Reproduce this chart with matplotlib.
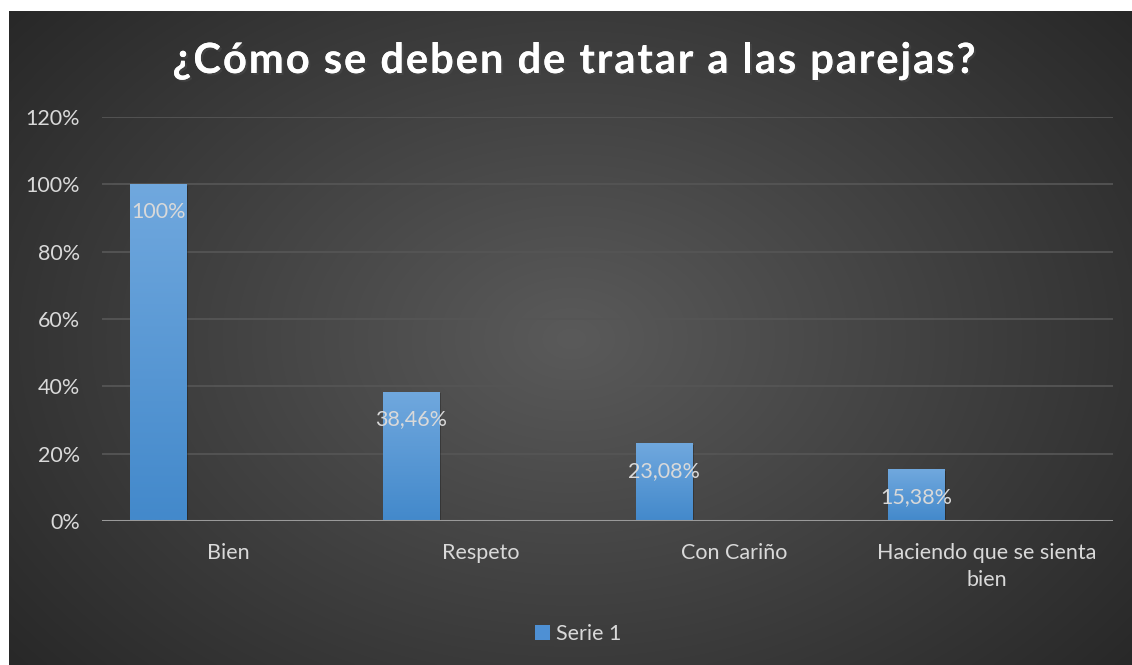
import numpy as np
import matplotlib
matplotlib.use("Agg")
import matplotlib.pyplot as plt
from matplotlib.patches import Patch
from matplotlib.font_manager import FontProperties
import matplotlib.patheffects as pe

categories = ["Bien", "Respeto", "Con Cariño", "Haciendo que se sienta\nbien"]
values = [1.0, 0.3846, 0.2308, 0.1538]
value_labels = ["100%", "38,46%", "23,08%", "15,38%"]
y_ticks = [0, 0.2, 0.4, 0.6, 0.8, 1.0, 1.2]
y_tick_labels = ["0%", "20%", "40%", "60%", "80%", "100%", "120%"]
series_name = "Serie 1"
title = "¿Cómo se deben de tratar a las parejas?"

W, H = 1132, 665
fig = plt.figure(figsize=(W / 100, H / 100), dpi=100)
fig.patch.set_facecolor("white")
FONT = "Lato"
txt_color = "#d9d9d9"
FS = 15.5

# background radial gradient (chart area)
bx0, by_top = 9, 11
bg = fig.add_axes([bx0 / W, 0, (W - bx0) / W, (H - by_top) / H])
bg.set_axis_off()
ny, nx = 330, 560
yy, xx = np.mgrid[0:ny, 0:nx]
cx, cy = nx * 0.50, ny * 0.50
d = np.sqrt(((xx - cx) / (nx * 0.66)) ** 2 + ((yy - cy) / (ny * 0.80)) ** 2)
d = np.clip(d, 0, 1)
c_center = np.array([0x5a, 0x5a, 0x5a]) / 255
c_edge = np.array([0x27, 0x27, 0x27]) / 255
img = c_center[None, None, :] * (1 - d[..., None]) + c_edge[None, None, :] * d[..., None]
bg.imshow(img, aspect="auto", extent=[0, 1, 0, 1], interpolation="bilinear")
bg.set_xlim(0, 1)
bg.set_ylim(0, 1)

# plot axes
left, right = 102 / W, 1113 / W
bottom, top = 1 - 521 / H, 1 - 117 / H
ax = fig.add_axes([left, bottom, right - left, top - bottom])
ax.patch.set_alpha(0)
ax.set_xlim(-0.5, len(categories) - 0.5)
ax.set_ylim(0, 1.2)
for s in ax.spines.values():
    s.set_visible(False)
ax.set_yticks(y_ticks)
ax.set_yticklabels(y_tick_labels)
ax.grid(axis="y", color="#555555", lw=1.3, zorder=0)
ax.set_axisbelow(True)
ax.axhline(0, color="#9a9a9a", lw=2.2, zorder=4)
ax.tick_params(axis="both", length=0, colors=txt_color, labelsize=FS)
ax.tick_params(axis="y", pad=16)
ax.tick_params(axis="x", pad=16)
x = np.arange(len(categories))
ax.set_xticks(x)
ax.set_xticklabels(categories, linespacing=1.45)
for lab in ax.get_xticklabels() + ax.get_yticklabels():
    lab.set_fontfamily(FONT)
    lab.set_color(txt_color)

bar_w = 0.222
offset = -0.278
grad = np.linspace(0, 1, 100)[:, None]
top_c = np.array([0x70, 0xa8, 0xde]) / 255
bot_c = np.array([0x43, 0x89, 0xcb]) / 255
gimg = top_c[None, None, :] * (1 - grad[..., None]) + bot_c[None, None, :] * grad[..., None]
gimg = np.repeat(gimg, 2, axis=1)
bars = ax.bar(x + offset, values, width=bar_w, color="#5b9bd5", zorder=3)
for b, v, lab in zip(bars, values, value_labels):
    bx, bw = b.get_x(), b.get_width()
    ax.bar(bx + bw / 2 + 0.008, v, width=bw, bottom=-0.004, color="black", alpha=0.25, zorder=2)
    im = ax.imshow(gimg, extent=[bx, bx + bw, 0, v], aspect="auto", zorder=3.5,
                   interpolation="bilinear")
    im.set_clip_path(b)
    ax.annotate(lab, xy=(bx + bw / 2, v), xytext=(0, -28), textcoords="offset pixels",
                ha="center", va="center", color=txt_color, fontsize=FS, family=FONT, zorder=6)
ax.set_xlim(-0.5, len(categories) - 0.5)
ax.set_ylim(0, 1.2)

# legend
fig.legend(handles=[Patch(facecolor="#4e90d4", edgecolor="none", label=series_name)],
           loc="center", bbox_to_anchor=(578 / W, 1 - 634 / H), frameon=False,
           handlelength=0.7, handleheight=0.7, handletextpad=0.3,
           prop=FontProperties(family=FONT, size=FS), labelcolor=txt_color)

# title with letter spacing
fig.canvas.draw()
renderer = fig.canvas.get_renderer()
tprop = FontProperties(family=FONT, weight="bold", size=30)
def tw(s):
    w, h, dd = renderer.get_text_width_height_descent(s, tprop, ismath=False)
    return w
ref = tw("|")
target_w = 803
nat = tw(title)
spacing = (target_w - nat) / (len(title) - 1)
x0 = 574 - target_w / 2
ty = 1 - 61 / H
for i, ch in enumerate(title):
    px = x0 + (tw(title[:i] + "|") - ref if i > 0 else 0) + i * spacing
    fig.text(px / W, ty, ch, fontproperties=tprop, color="white", ha="left", va="center",
             path_effects=[pe.withSimplePatchShadow(offset=(1.5, -1.5), alpha=0.5), pe.Normal()])

fig.savefig("out.png", dpi=100, facecolor="white")
